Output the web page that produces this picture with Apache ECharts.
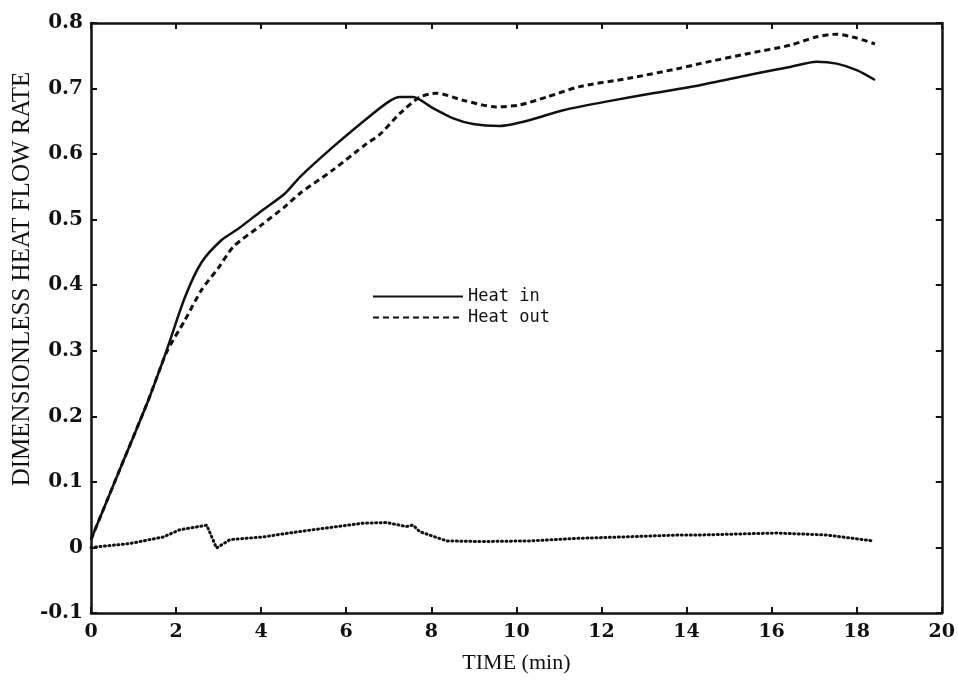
<!DOCTYPE html>
<html>
<head>
<meta charset="utf-8">
<script src="https://cdn.jsdelivr.net/npm/echarts@6/dist/echarts.min.js"></script>
<style>
  html, body { margin: 0; padding: 0; background: #fff; }
  #chart { width: 958px; height: 690px; }
</style>
</head>
<body>
<div id="chart"></div>
<script>
// Dimensionless heat flow rate vs time
const heatInTime = [0, 0.64, 1.35, 1.78, 2.21, 2.6, 3.07, 3.46, 4.0, 4.56, 4.91, 5.69, 6.48, 7.0, 7.26, 7.57, 8.04, 8.5, 8.98, 9.61, 10.32, 11.1, 12.27, 13.14, 14.31, 15.49, 16.43, 17.06, 17.53, 18.0, 18.43];
const heatIn     = [0.012, 0.113, 0.225, 0.301, 0.382, 0.435, 0.469, 0.486, 0.513, 0.54, 0.565, 0.611, 0.654, 0.68, 0.687, 0.687, 0.67, 0.655, 0.646, 0.643, 0.652, 0.667, 0.682, 0.692, 0.705, 0.721, 0.733, 0.741, 0.738, 0.728, 0.713];

const heatOutTime = [0, 0.64, 1.35, 1.78, 2.21, 2.6, 2.99, 3.35, 4.01, 4.56, 4.91, 5.69, 6.48, 6.79, 7.26, 7.73, 8.12, 8.75, 9.53, 10.08, 10.71, 11.49, 12.67, 13.84, 14.31, 15.49, 16.43, 17.06, 17.53, 18.0, 18.43];
const heatOut     = [0.012, 0.113, 0.225, 0.298, 0.347, 0.393, 0.426, 0.459, 0.492, 0.52, 0.54, 0.576, 0.616, 0.63, 0.662, 0.687, 0.693, 0.682, 0.672, 0.675, 0.687, 0.703, 0.716, 0.731, 0.738, 0.754, 0.766, 0.779, 0.783, 0.777, 0.768];

const diffTime = [0, 0.92, 1.7, 2.09, 2.72, 2.95, 3.27, 4.05, 4.44, 5.22, 6.4, 6.95, 7.41, 7.57, 7.73, 8.36, 9.15, 10.32, 11.49, 12.5, 13.84, 14.31, 16.11, 17.29, 18.38];
const diff     = [0.0, 0.006, 0.016, 0.027, 0.034, -0.001, 0.012, 0.016, 0.02, 0.027, 0.037, 0.038, 0.032, 0.034, 0.024, 0.01, 0.009, 0.01, 0.014, 0.016, 0.019, 0.019, 0.022, 0.019, 0.01];

const seriesNames = ['Heat in', 'Heat out'];
const yTitle = 'DIMENSIONLESS HEAT FLOW RATE';
const xTitle = 'TIME (min)';

const zip = (xs, ys) => xs.map((x, i) => [x, ys[i]]);
const INK = '#111';
const SERIF = '"Liberation Serif", "DejaVu Serif", serif';
const TICKFONT = '"DejaVu Serif", serif';
const MONO = '"DejaVu Sans Mono", "Liberation Mono", monospace';

const chart = echarts.init(document.getElementById('chart'), null, { renderer: 'canvas' });

const xBase = {
  type: 'value', min: 0, max: 20, interval: 2,
  axisLine: { onZero: false, lineStyle: { color: INK, width: 2.5 } },
  axisTick: { inside: true, length: 6, lineStyle: { color: INK, width: 2 } },
  splitLine: { show: false },
};
const yBase = {
  type: 'value', min: -0.1, max: 0.8, interval: 0.1,
  axisLine: { onZero: false, lineStyle: { color: INK, width: 2.5 } },
  axisTick: { inside: true, length: 6, lineStyle: { color: INK, width: 2 } },
  splitLine: { show: false },
};

chart.setOption({
  animation: false,
  backgroundColor: '#fff',
  grid: { left: 91, right: 16, top: 23, bottom: 77 },
  legend: {
    data: seriesNames,
    orient: 'vertical', left: 372, top: 288, padding: 0,
    itemWidth: 90, itemHeight: 14, itemGap: 4,
    itemStyle: { opacity: 0 },
    textStyle: { fontFamily: MONO, fontSize: 17, color: INK },
  },
  graphic: [{
    type: 'text', rotation: Math.PI / 2, x: 22, y: 279,
    style: { text: yTitle, fontFamily: SERIF, fontSize: 25, fill: INK,
      align: 'center', verticalAlign: 'middle' },
  }],
  xAxis: [
    Object.assign({}, xBase, {
      position: 'bottom',
      name: xTitle, nameLocation: 'middle', nameGap: 39,
      nameTextStyle: { fontFamily: SERIF, fontSize: 22, color: INK },
      axisLabel: { fontFamily: TICKFONT, fontWeight: 'bold', fontSize: 19, color: INK, margin: 10 },
    }),
    Object.assign({}, xBase, { position: 'top', axisLabel: { show: false } }),
  ],
  yAxis: [
    Object.assign({}, yBase, {
      position: 'left',
      axisLabel: {
        fontFamily: TICKFONT, fontWeight: 'bold', fontSize: 20, color: INK, margin: 8,
        formatter: v => (Math.abs(v) < 1e-9 ? '0' : v.toFixed(1)),
      },
    }),
    Object.assign({}, yBase, { position: 'right', axisLabel: { show: false } }),
  ],
  series: [
    {
      name: 'Heat in', type: 'line', data: zip(heatInTime, heatIn),
      showSymbol: false, symbol: 'none', smooth: 0.25,
      lineStyle: { color: INK, width: 2.5 }, itemStyle: { color: INK },
    },
    {
      name: 'Heat out', type: 'line', data: zip(heatOutTime, heatOut),
      showSymbol: false, symbol: 'none', smooth: 0.25,
      lineStyle: { color: INK, width: 3, type: [6, 4] }, itemStyle: { color: INK },
    },
    {
      name: 'Difference', type: 'line', data: zip(diffTime, diff),
      showSymbol: false, symbol: 'none', smooth: false,
      lineStyle: { color: INK, width: 3, type: [1, 3.5], cap: 'round' }, itemStyle: { color: INK },
    },
  ],
});
</script>
</body>
</html>
